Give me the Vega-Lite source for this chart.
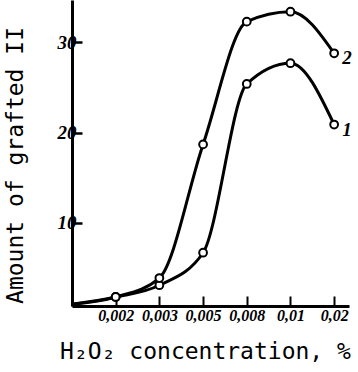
{
  "$schema": "https://vega.github.io/schema/vega-lite/v6.json",
  "autosize": "none",
  "padding": {"left": 72, "top": 0, "right": 9, "bottom": 66},
  "width": 277,
  "height": 306,
  "background": "white",
  "config": {"view": {"stroke": null}},
  "data": {
    "values": [
      {"series": "1", "conc": "0", "amount": 1.0},
      {"series": "1", "conc": "0,002", "amount": 1.8},
      {"series": "1", "conc": "0,003", "amount": 3.1},
      {"series": "1", "conc": "0,005", "amount": 6.7},
      {"series": "1", "conc": "0,008", "amount": 25.4},
      {"series": "1", "conc": "0,01", "amount": 27.7},
      {"series": "1", "conc": "0,02", "amount": 20.9},
      {"series": "2", "conc": "0", "amount": 1.0},
      {"series": "2", "conc": "0,002", "amount": 1.8},
      {"series": "2", "conc": "0,003", "amount": 3.9},
      {"series": "2", "conc": "0,005", "amount": 18.7},
      {"series": "2", "conc": "0,008", "amount": 32.3},
      {"series": "2", "conc": "0,01", "amount": 33.4},
      {"series": "2", "conc": "0,02", "amount": 28.8}
    ]
  },
  "encoding": {
    "x": {
      "field": "conc",
      "type": "ordinal",
      "sort": null,
      "scale": {"type": "point", "padding": 0.17, "align": 0},
      "axis": {
        "title": "H₂O₂ concentration, %",
        "titleFont": "DejaVu Sans Mono",
        "titleFontSize": 23,
        "titleFontWeight": "normal",
        "titleColor": "black",
        "titleX": 133,
        "titleY": 45,
        "titleAlign": "center",
        "titleBaseline": "middle",
        "labelExpr": "datum.value == '0' ? '' : datum.value",
        "labelAngle": 0,
        "labelFont": "Liberation Serif",
        "labelFontStyle": "italic",
        "labelFontWeight": "bold",
        "labelFontSize": 16,
        "labelColor": "black",
        "labelPadding": 11,
        "tickSize": -10,
        "tickWidth": 2,
        "tickColor": "black",
        "domainColor": "black",
        "domainWidth": 3,
        "grid": false
      }
    },
    "y": {
      "field": "amount",
      "type": "quantitative",
      "scale": {"domain": [0.8, 34.7], "nice": false, "zero": false},
      "axis": {
        "title": "Amount of grafted II",
        "titleFont": "DejaVu Sans Mono",
        "titleFontSize": 23,
        "titleFontWeight": "normal",
        "titleColor": "black",
        "titleX": -57,
        "titleY": 165,
        "titleAlign": "center",
        "titleBaseline": "middle",
        "values": [10, 20, 30],
        "labelFont": "Liberation Serif",
        "labelFontStyle": "italic",
        "labelFontWeight": "bold",
        "labelFontSize": 19,
        "labelColor": "black",
        "labelPadding": 6,
        "tickSize": -10,
        "tickWidth": 2.5,
        "tickColor": "black",
        "domainColor": "black",
        "domainWidth": 3,
        "grid": false
      }
    }
  },
  "layer": [
    {
      "mark": {"type": "line", "interpolate": "monotone", "color": "black", "strokeWidth": 3},
      "encoding": {"detail": {"field": "series"}}
    },
    {
      "transform": [{"filter": "datum.conc != '0'"}],
      "mark": {"type": "point", "shape": "circle", "filled": false, "fill": "white", "stroke": "black", "strokeWidth": 2, "size": 60, "opacity": 1}
    },
    {
      "transform": [{"filter": "datum.conc == '0,02'"}],
      "mark": {"type": "text", "align": "left", "dx": 8, "dy": 5, "font": "Liberation Serif", "fontStyle": "italic", "fontWeight": "bold", "fontSize": 19, "color": "black"},
      "encoding": {"text": {"field": "series"}}
    }
  ]
}
